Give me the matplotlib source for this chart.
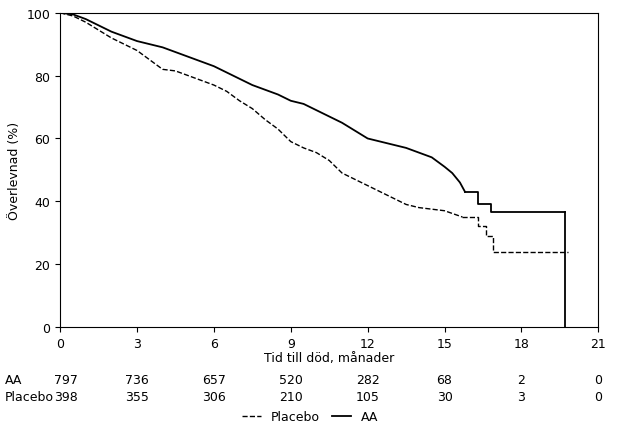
import matplotlib.pyplot as plt

# AA-kurva (månader, överlevnad %)
aa_t = [0, 0.5, 1, 1.5, 2, 2.5, 3, 3.5, 4, 4.5, 5, 5.5, 6, 6.5, 7, 7.5, 8, 8.5, 9, 9.5, 10, 10.5, 11, 11.5, 12, 12.5, 13, 13.5, 14, 14.5, 15, 15.3, 15.6, 15.8]
aa_s = [100, 99.5, 98, 96, 94, 92.5, 91, 90, 89, 87.5, 86, 84.5, 83, 81, 79, 77, 75.5, 74, 72, 71, 69, 67, 65, 62.5, 60, 59, 58, 57, 55.5, 54, 51, 49, 46, 43]
aa_tail_t = [15.8, 16.3, 16.8, 19.7]
aa_tail_s = [43, 39, 36.5, 36.5]
# Placebo-kurva
pl_t = [0, 0.5, 1, 1.5, 2, 2.5, 3, 3.5, 4, 4.5, 5, 5.5, 6, 6.5, 7, 7.5, 8, 8.5, 9, 9.5, 10, 10.5, 11, 11.5, 12, 12.5, 13, 13.5, 14, 14.5, 15, 15.7]
pl_s = [100, 99, 97, 94.5, 92, 90, 88, 85, 82, 81.5, 80, 78.5, 77, 75, 72, 69.5, 66, 63, 59, 57, 55.5, 53, 49, 47, 45, 43, 41, 39, 38, 37.5, 37, 35]
pl_tail_t = [15.7, 16.3, 16.6, 16.9, 19.8]
pl_tail_s = [35, 32, 29, 24, 24]

ticks = [0, 3, 6, 9, 12, 15, 18, 21]
aa_risk = [797, 736, 657, 520, 282, 68, 2, 0]
pl_risk = [398, 355, 306, 210, 105, 30, 3, 0]

fig = plt.figure(figsize=(6.2, 4.31), dpi=100)
ax = fig.add_axes([0.097, 0.239, 0.868, 0.729])
ax.plot(aa_t, aa_s, color='black', lw=1.3, label='AA')
ax.step(aa_tail_t, aa_tail_s, where='post', color='black', lw=1.3)
ax.plot([19.7, 19.7], [36.5, 0], color='black', lw=1.3)
ax.plot(pl_t, pl_s, color='black', lw=1, ls='--', label='Placebo')
ax.step(pl_tail_t, pl_tail_s, where='post', color='black', lw=1, ls='--')
ax.set_xlim(0, 21)
ax.set_ylim(0, 100)
ax.set_xticks(ticks)
ax.set_yticks([0, 20, 40, 60, 80, 100])
ax.tick_params(labelsize=9)
ax.set_xlabel('Tid till död, månader', fontsize=9, labelpad=1)
ax.set_ylabel('Överlevnad (%)', fontsize=9)

for t, a, p in zip(ticks, aa_risk, pl_risk):
    x = 0.097 + 0.868 * t / 21
    if t == 0:
        x += 0.01
    fig.text(x, 0.11, str(a), ha='center', fontsize=9)
    fig.text(x, 0.07, str(p), ha='center', fontsize=9)
fig.text(0.008, 0.11, 'AA', fontsize=9)
fig.text(0.008, 0.07, 'Placebo', fontsize=9)

h, l = ax.get_legend_handles_labels()
fig.legend([h[1], h[0]], [l[1], l[0]], loc='lower center', bbox_to_anchor=(0.5, -0.01),
           ncol=2, frameon=False, fontsize=9, handlelength=1.5, columnspacing=1)
fig.savefig('out.png')
